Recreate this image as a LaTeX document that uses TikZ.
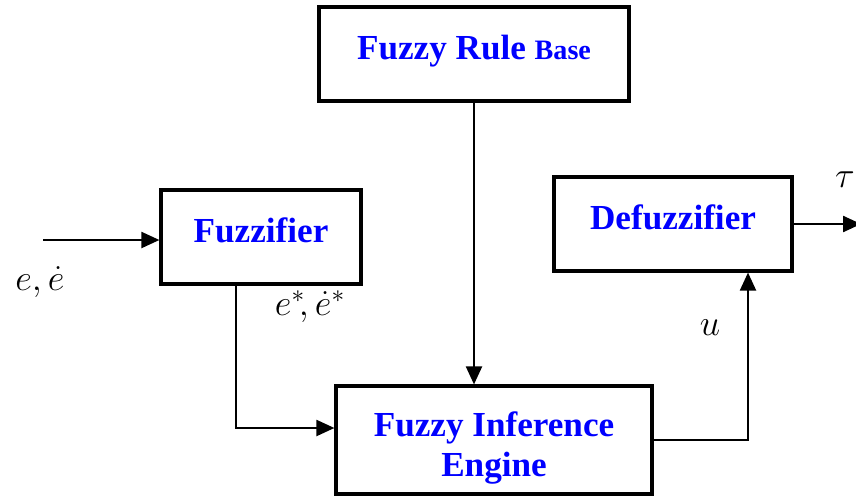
\documentclass[tikz,border=0pt]{standalone}
\usepackage{amsmath}
\usepackage{fontspec}
\setmainfont{Liberation Serif}
\usepackage{tikz}
\usetikzlibrary{arrows.meta,positioning,calc}

\begin{document}
\begin{tikzpicture}[scale = 1,
  blk/.style={draw, line width=1.8pt, minimum height=1.88cm, inner sep=0pt,
    text height=0.5cm, text depth=0.3cm,
    font=\fontsize{20}{23}\selectfont\bfseries, text=blue, align=center},
  sig/.style={-{Triangle[length=0.36cm,width=0.32cm]}, line width=1.2pt},
  lbl/.style={inner sep=1pt, font=\fontsize{22}{24}\selectfont}]
\useasboundingbox (0,0) rectangle (17.12,9.92);
\node[blk, minimum width=6.2cm] (rule) at (9.48,8.84) {Fuzzy Rule {\fontsize{16}{18}\selectfont Base}};
\node[blk, minimum width=4cm] (fuzz) at (5.22,5.18) {Fuzzifier};
\node[blk, minimum width=4.76cm] (defuzz) at (13.46,5.44) {Defuzzifier};
\node[blk, minimum width=6.32cm, minimum height=2.16cm, text height={}, text depth={}] (infer) at (9.88,1.12) {\rule{0pt}{0.82cm}Fuzzy Inference\\Engine};
\coordinate (in) at (0.86,5.12);
% signals
\draw[sig] (in) -- (in -| fuzz.west);
\draw[sig] (rule.south) -- (rule.south |- infer.north);
\draw[sig] ([xshift=-0.5cm]fuzz.south) |- ([yshift=0.24cm]infer.west);
\draw[sig] (infer.east) -| ([xshift=1.5cm]defuzz.south);
\draw[sig] (defuzz.east) -- ++(1.35,0) coordinate (out);
% labels
\node[lbl] (ein) at (0.8,4.28) {$e,\dot{e}$};
\node[lbl] (estar) at (6.2,3.78) {$e^{*}\!,\dot{e}^{*}$};
\node[lbl] (u) at (14.2,3.36) {$u$};
\node[lbl] (tau) at (16.9,6.32) {$\tau$};
\end{tikzpicture}
\end{document}
